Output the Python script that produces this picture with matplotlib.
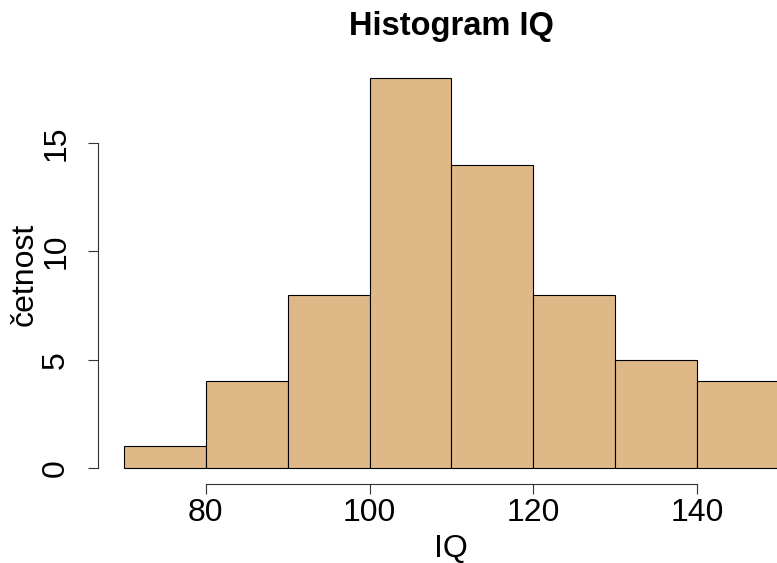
import matplotlib.pyplot as plt
import numpy as np

plt.rcParams['font.family'] = ['Liberation Sans', 'DejaVu Sans']

bin_edges = [70, 80, 90, 100, 110, 120, 130, 140, 150]
counts = [1, 4, 8, 18, 14, 8, 5, 4]
xticks = [80, 100, 120, 140]
yticks = [0, 5, 10, 15]

W, H = 777, 563
fig = plt.figure(figsize=(W / 100, H / 100), dpi=100)
# R-like plot region, extends a bit past the right edge of the image
ax = fig.add_axes([97.8 / W, (H - 483.6) / H, (805 - 97.8) / W, (483.6 - 62.4) / H])

lefts = np.array(bin_edges[:-1])
widths = np.diff(bin_edges)
ax.bar(lefts, counts, width=widths, align='edge', color='#DEB887',
       edgecolor='black', linewidth=0.8)

ax.set_xlim(66.8, 153.2)
ax.set_ylim(-0.72, 18.72)

for s in ['top', 'right']:
    ax.spines[s].set_visible(False)
ax.spines['left'].set_bounds(0, 15)
ax.spines['bottom'].set_bounds(80, 140)
for s in ['left', 'bottom']:
    ax.spines[s].set_color('#333333')
    ax.spines[s].set_linewidth(0.8)

ax.set_xticks(xticks)
ax.set_yticks(yticks)
ax.tick_params(axis='both', length=7.2, width=0.8, color='#333333', labelsize=23)
ax.tick_params(axis='x', pad=3)
ax.tick_params(axis='y', pad=12)
for lab in ax.get_yticklabels():
    lab.set_rotation(90)
    lab.set_va('center')

fig.text(451 / W, 1 - 35 / H, 'Histogram IQ', ha='center', va='baseline',
         fontsize=23.5, fontweight='bold')
fig.text(451 / W, 1 - 557 / H, 'IQ', ha='center', va='baseline', fontsize=23)
fig.text(25 / W, 1 - 274 / H, 'četnost', ha='center', va='center',
         rotation=90, fontsize=23)

plt.savefig('out.png', dpi=100)
